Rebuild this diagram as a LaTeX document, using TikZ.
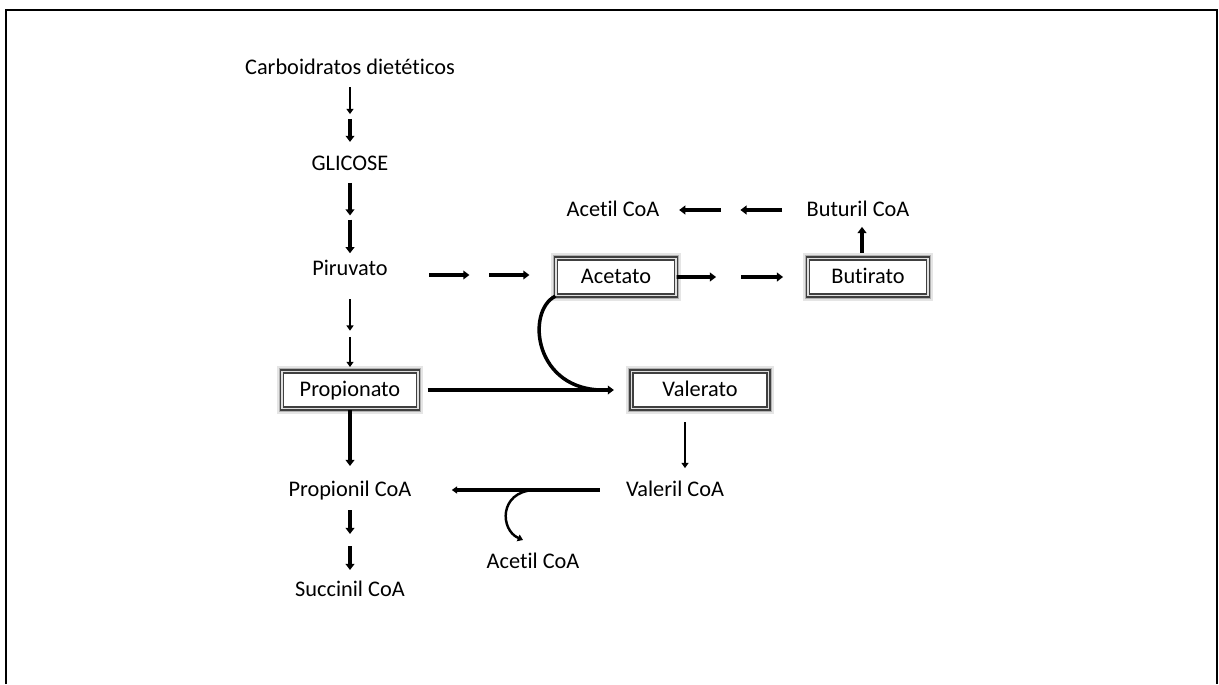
\documentclass[tikz,border=0pt]{standalone}
\usepackage{fontspec}
\setmainfont{Carlito}[Ligatures=NoCommon]
\usetikzlibrary{positioning, calc, arrows.meta}

\begin{document}
\begin{tikzpicture}[
		x=0.02cm, y=-0.02cm,
		every node/.style={font=\fontsize{12.7}{15}\selectfont},
		lbl/.style={inner sep=0pt, text height=9pt, text depth=2pt},
		acid/.style={draw=black!75, double=black!12, double distance=1pt, line width=0.7pt,
			fill=white, inner sep=0pt, minimum height=0.74cm, text height=9pt, text depth=2pt,
			preaction={draw=black!10, line width=6pt},
			preaction={draw=black!30, line width=3.8pt}},
		arr/.style={line width=1.3pt, -{Triangle[length=3pt,width=4pt]}},
		arrb/.style={line width=2.2pt, -{Triangle[length=3.5pt,width=5pt]}}
		]
		\useasboundingbox (0,0) rectangle (1219,684);
		% frame
		\draw[line width=1.5pt] (6,684) -- (6,10) -- (1217,10) -- (1217,684);

		% main column
		\node[lbl] (carb) at (350,68) {Carboidratos dietéticos};
		\node[lbl] (glic) at (350,164) {GLICOSE};
		\node[lbl] (piru) at (350,269) {Piruvato};
		\node[acid, minimum width=2.72cm] (prop) at (350,390) {Propionato};
		\node[lbl] (propc) at (350,490) {Propionil CoA};
		\node[lbl] (succ) at (350,590) {Succinil CoA};

		% acetato, butirato
		\node[acid, minimum width=2.4cm] (acet) at (616,277) {Acetato};
		\node[acid, minimum width=2.4cm] (buti) at (868,277) {Butirato};
		\node[lbl] (butc) at (858,210) {Buturil CoA};
		\node[lbl] (acoa1) at (613,210) {Acetil CoA};

		% valerato
		\node[acid, minimum width=2.74cm] (vale) at (700,390) {Valerato};
		\node[lbl] (valc) at (675,490) {Valeril CoA};
		\node[lbl] (acoa2) at (533,562) {Acetil CoA};

		\draw[arr] ($(carb)!0.20!(glic)$) -- ($(carb)!0.48!(glic)$);
		\draw[arrb] ($(carb)!0.53!(glic)$) -- ($(carb)!0.77!(glic)$);
		\draw[arrb] ($(glic)!0.18!(piru)$) -- ($(glic)!0.49!(piru)$);
		\draw[arrb] ($(glic)!0.53!(piru)$) -- ($(glic)!0.85!(piru)$);
		\draw[arr, line width=1.7pt] ($(piru)!0.25!(prop)$) -- ($(piru)!0.51!(prop)$);
		\draw[arr, line width=1.7pt] ($(piru)!0.56!(prop)$) -- ($(piru)!0.81!(prop)$);
		\draw[arrb] ($(prop)!0.20!(propc)$) -- ($(prop)!0.76!(propc)$);
		\draw[arrb] ($(propc)!0.20!(succ)$) -- ($(propc)!0.44!(succ)$);
		\draw[arrb] ($(propc)!0.56!(succ)$) -- ($(propc)!0.80!(succ)$);

		\draw[arrb] ($(acet.west)+(-126,-2)$) -- ++(40,0);
		\draw[arrb] ($(acet.west)+(-66,-2)$) -- ++(40,0);
		\draw[arrb] (acet.east) -- ($(acet)!0.397!(buti)$);
		\draw[arrb] ($(acet)!0.496!(buti)$) -- ($(acet)!0.663!(buti)$);
		\draw[arrb] ($(buti.north)+(-6,-5)$) -- ++(0,-26);
		\draw[arrb] ($(butc)!0.31!(acoa1)$) -- ($(butc)!0.48!(acoa1)$);
		\draw[arrb] ($(butc)!0.56!(acoa1)$) -- ($(butc)!0.73!(acoa1)$);

		% propionato + acetato -> valerato
		\coordinate (vend) at ($(vale.west)+(-17,0)$);
		\coordinate (vmerge) at ($(vend)+(-8,0)$);
		\draw[arrb] ($(prop.east)+(9,0)$) -- (vend);
		\draw[line width=2pt] (acet.south west) .. controls +(-30,15) and +(-72,2) .. (vmerge);

		\draw[arr] ($(vale.south)+(-15,13)$) -- ++(0,46);
		\coordinate (jn) at ($(propc.east)!0.57!(valc.west)$);
		\draw[arr, line width=1.8pt] ($(valc.west)+(-26,0)$) -- ($(propc.east)+(40,0)$);
		\draw[arr, line width=1.4pt] (jn) .. controls +(-35,2) and +(-23,-10) .. ($(acoa2.north)+(-10,-12)$);
	\end{tikzpicture}
\end{document}
